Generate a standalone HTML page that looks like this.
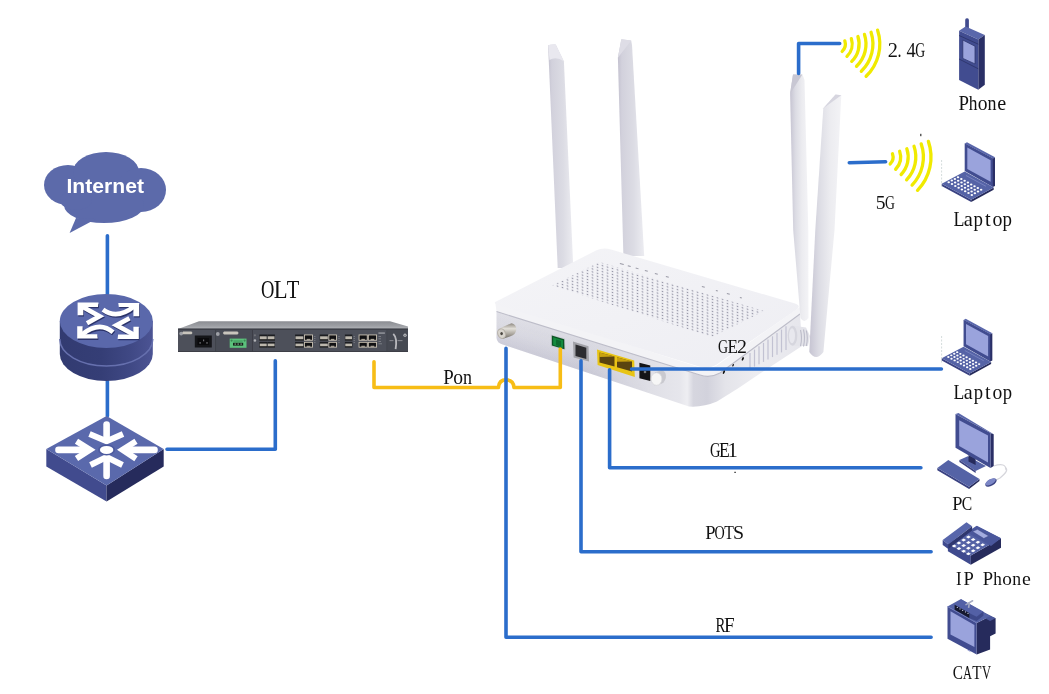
<!DOCTYPE html>
<html><head><meta charset="utf-8"><title>ONU network diagram</title>
<style>
html,body{margin:0;padding:0;background:#fff;width:1049px;height:694px;overflow:hidden}
svg{display:block;will-change:transform}
text{font-family:"Liberation Serif",serif;fill:#111}
.lbl{font-size:20px}
</style></head><body>
<svg width="1049" height="694" viewBox="0 0 1049 694">
<defs>
 <linearGradient id="cylSide" x1="0" x2="1" y1="0" y2="0">
  <stop offset="0" stop-color="#323b71"/><stop offset="0.45" stop-color="#353e76"/><stop offset="0.75" stop-color="#3f4884"/><stop offset="1" stop-color="#4c5494"/>
 </linearGradient>
 <linearGradient id="antL" x1="0" x2="1" y1="0" y2="0">
  <stop offset="0" stop-color="#c4c2d0"/><stop offset="0.15" stop-color="#d2d1dc"/><stop offset="0.6" stop-color="#dcdce4"/><stop offset="1" stop-color="#ececf1"/>
 </linearGradient>
 <linearGradient id="antR" x1="0" x2="1" y1="0" y2="0">
  <stop offset="0" stop-color="#c6c4d2"/><stop offset="0.3" stop-color="#dcdce4"/><stop offset="0.65" stop-color="#ececf0"/><stop offset="1" stop-color="#f3f3f6"/>
 </linearGradient>
 <linearGradient id="rightG" x1="0" x2="1" y1="0" y2="0">
  <stop offset="0" stop-color="#d6d6df"/><stop offset="0.3" stop-color="#ebebf0"/><stop offset="1" stop-color="#e6e6ec"/>
 </linearGradient>
 <linearGradient id="topG" x1="0" x2="1" y1="0" y2="1">
  <stop offset="0" stop-color="#f4f4f7"/><stop offset="1" stop-color="#eeeef3"/>
 </linearGradient>
 <linearGradient id="frontG" x1="0" x2="1" y1="0" y2="0">
  <stop offset="0" stop-color="#e2e2e8"/><stop offset="0.6" stop-color="#dcdce4"/><stop offset="0.85" stop-color="#ebebf0"/><stop offset="1" stop-color="#dedee6"/>
 </linearGradient>
 <linearGradient id="oltTop" x1="0" x2="0" y1="0" y2="1">
  <stop offset="0" stop-color="#8b8d92"/><stop offset="0.6" stop-color="#9d9fa4"/><stop offset="1" stop-color="#b2b4b8"/>
 </linearGradient>
 <pattern id="dots" width="5" height="3" patternUnits="userSpaceOnUse" patternTransform="skewY(15.6)">
  <circle cx="2.5" cy="1.5" r="0.72" fill="#7c7c90"/>
 </pattern>
 <g id="rarrows">
  <g fill="none" stroke="currentColor" stroke-width="4.7" stroke-linejoin="miter" stroke-linecap="butt">
   <path d="M82 306.5 L99.5 316.3 L87 323.2"/>
   <path d="M134 306.5 Q117 320 103 309.6"/>
   <path d="M82 334.5 Q99.5 320.5 113 332.3"/>
   <path d="M134 334.8 L116.5 325.3 L129.5 318.2"/>
  </g>
  <g fill="currentColor">
   <path d="M77.6 302.6 H98.5 L98 306.9 H83.3 V315.2 H77.6 Z"/>
   <path d="M139.2 302.9 H118.3 L118.8 306.9 H133.4 V316.3 H139.2 Z"/>
   <path d="M77.2 338.6 H97.7 L97.2 334.3 H82.6 V326.3 H77.2 Z"/>
   <path d="M138.8 338.9 H117.6 L118.1 334.6 H133.4 V326.7 H138.8 Z"/>
  </g>
 </g>
 <linearGradient id="fconn" x1="0" x2="0" y1="0" y2="1">
  <stop offset="0" stop-color="#8d8880"/><stop offset="0.35" stop-color="#e2dfd9"/><stop offset="0.7" stop-color="#a9a49c"/><stop offset="1" stop-color="#6e6a63"/>
 </linearGradient>
 <linearGradient id="bodyG" gradientUnits="userSpaceOnUse" x1="496" y1="0" x2="802" y2="0">
  <stop offset="0" stop-color="#e0e0e7"/><stop offset="0.34" stop-color="#dadae2"/><stop offset="0.5" stop-color="#dfdfe6"/><stop offset="0.6" stop-color="#e6e6ec"/>
  <stop offset="0.625" stop-color="#eeeef2"/><stop offset="0.645" stop-color="#d6d6df"/><stop offset="0.69" stop-color="#d2d2dc"/><stop offset="0.75" stop-color="#e4e4ea"/><stop offset="0.85" stop-color="#ededf1"/><stop offset="1" stop-color="#e6e6ec"/>
 </linearGradient>
 <linearGradient id="frontShade" gradientUnits="userSpaceOnUse" x1="0" y1="150" x2="0" y2="181.5" gradientTransform="skewY(18)">
  <stop offset="0" stop-color="#6a6890" stop-opacity="0"/><stop offset="0.5" stop-color="#6a6890" stop-opacity="0.05"/><stop offset="1" stop-color="#6a6890" stop-opacity="0.16"/>
 </linearGradient>
 <linearGradient id="fadeXg" gradientUnits="userSpaceOnUse" x1="496" y1="0" x2="690" y2="0">
  <stop offset="0" stop-color="#fff"/><stop offset="0.45" stop-color="#fff"/><stop offset="0.8" stop-color="#000"/><stop offset="1" stop-color="#000"/>
 </linearGradient>
 <mask id="fadeX" maskUnits="userSpaceOnUse" x="480" y="290" width="240" height="130"><rect x="480" y="290" width="240" height="130" fill="url(#fadeXg)"/></mask>
</defs>

<!-- ============ LEFT SIDE ============ -->
<!-- Internet cloud -->
<g fill="#5c6aaa">
 <ellipse cx="68" cy="185" rx="24" ry="20"/>
 <ellipse cx="106" cy="172" rx="33" ry="20"/>
 <ellipse cx="141" cy="190" rx="25" ry="22"/>
 <ellipse cx="104" cy="205" rx="40" ry="18"/>
 <ellipse cx="76" cy="200" rx="16" ry="10"/>
 <path d="M76 218 L69.6 233 L96 219 Z"/>
</g>
<text x="66.5" y="193.2" font-family="Liberation Sans" font-weight="bold" font-size="19.6" textLength="77.5" lengthAdjust="spacingAndGlyphs" style="font-family:'Liberation Sans',sans-serif;fill:#fff">Internet</text>

<!-- blue lines -->
<g stroke="#2b6dcb" stroke-width="3.6" fill="none" stroke-linecap="round" stroke-linejoin="round">
 <path d="M107.4 235.8 V294"/>
 <path d="M107.4 381 V416"/>
 <path d="M167 449.2 H275.3 V360.7"/>
</g>

<!-- Router (cylinder) -->
<g>
 <path d="M59.8 321 V354 A46.5 27 0 0 0 152.8 354 V321 Z" fill="url(#cylSide)"/>
 <path d="M59.8 339 A46.5 27 0 0 0 152.8 339" fill="none" stroke="#6670ae" stroke-width="1.5"/>
 <ellipse cx="106.3" cy="321" rx="46.5" ry="27" fill="#5a68ab"/>
 <use href="#rarrows" transform="translate(0.7 1.3)" style="color:#2b3369"/>
 <use href="#rarrows" style="color:#ffffff"/>
</g>

<!-- Switch -->
<g>
 <path d="M46.3 449 L106.6 485.6 L106.6 501.5 L46.3 466.5 Z" fill="#414b8e"/>
 <path d="M163.7 449 L106.6 485.6 L106.6 501.5 L163.7 466.5 Z" fill="#262b5c"/>
 <path d="M106.6 416 L163.7 449 L106.6 485.6 L46.3 449 Z" fill="#5a69ac"/>
 <g stroke="#fff" stroke-width="6.6" fill="none" stroke-linecap="round">
  <path d="M106.6 424.5 V439"/>
  <path d="M58.5 449.9 H86"/>
  <path d="M154.5 449.9 H126"/>
  <path d="M106.6 476 V461"/>
 </g>
 <g stroke="#fff" stroke-width="6" fill="none" stroke-linejoin="miter" stroke-linecap="butt" stroke-miterlimit="6">
  <path d="M89.5 434 L106.6 441.3 L123 434"/>
  <path d="M76.5 441.3 L90 449.8 L76.5 458.5"/>
  <path d="M136 441.3 L122.5 449.8 L136 458.8"/>
  <path d="M90.5 465 L106.6 457 L122.5 465"/>
 </g>
 <ellipse cx="106.6" cy="449.9" rx="8.6" ry="5.6" fill="#4d5b9f"/><ellipse cx="106.6" cy="449.9" rx="6.7" ry="4" fill="#fff"/>
</g>

<!-- OLT -->
<g>
 <path d="M178 329 L199 321.3 L390 321.3 L408 326.5 L408 329 Z" fill="url(#oltTop)"/>
 <rect x="178" y="328.7" width="230" height="23.2" fill="#4d505a"/>
 <rect x="178" y="328.6" width="230" height="1" fill="#34363d"/>
 <rect x="178" y="351" width="230" height="0.9" fill="#3a3c43"/>
 <g fill="#3a3c44">
  <rect x="215.3" y="330" width="0.9" height="21.5"/>
  <rect x="252" y="330" width="0.9" height="21.5"/>
  <rect x="386.6" y="330" width="0.9" height="21.5"/>
 </g>
 <rect x="216.2" y="330" width="35.8" height="21" fill="#484b55"/>
 <rect x="387.5" y="330" width="20.5" height="21" fill="#464952"/>
 <!-- power module -->
 <circle cx="181.2" cy="333.6" r="1.9" fill="#9ea0a6"/>
 <path d="M183 331.6 L191.5 331.6 L192.5 333 L191.5 334.3 L183 334.3 L182.3 333 Z" fill="#c9c5bd"/>
 <rect x="194.8" y="335.5" width="17" height="12" fill="#141518"/>
 <path d="M197.5 338 L209 338 L209 345 L197.5 345 Z" fill="#0a0a0c"/>
 <g fill="#6c6c70"><rect x="199.5" y="342" width="1.2" height="1.8"/><rect x="203" y="339.5" width="1.2" height="1.8"/><rect x="206.4" y="342" width="1.2" height="1.8"/></g>
 <!-- second module -->
 <circle cx="217.8" cy="334" r="1.9" fill="#9ea0a6"/>
 <path d="M224 331.6 L237.5 331.6 L238.7 333 L237.5 334.4 L224 334.4 L222.8 333 Z" fill="#c9c5bd"/>
 <rect x="229.7" y="338.6" width="16.8" height="9.2" fill="#5cc27c"/>
 <circle cx="231.6" cy="340.6" r="1.1" fill="#3d8a55"/><circle cx="244.6" cy="340.6" r="1.1" fill="#3d8a55"/>
 <rect x="233.5" y="340.2" width="9.2" height="2.2" fill="#4aa868"/>
 <rect x="233" y="342.8" width="10.2" height="2.8" fill="#14241a"/>
 <rect x="234.5" y="343.4" width="1.6" height="1.4" fill="#6f8a74"/><rect x="237.4" y="343.4" width="1.6" height="1.4" fill="#6f8a74"/><rect x="240.3" y="343.4" width="1.6" height="1.4" fill="#6f8a74"/>
 <!-- main card screws -->
 <circle cx="254.9" cy="335.3" r="1.1" fill="#6f7177"/>
 <circle cx="254.9" cy="340.5" r="1.3" fill="#b1b2b6"/>
 <rect x="259.4" y="334.5" width="7.7" height="6.2" fill="#1d1e22"/><rect x="259.8" y="336.3" width="6.9" height="2.7" fill="#bcb7ad"/><rect x="259.8" y="339.3" width="6.9" height="0.9" fill="#4a4844"/>
 <rect x="259.4" y="341.9" width="7.7" height="5.7" fill="#1d1e22"/><rect x="259.8" y="343.6" width="6.9" height="2.4" fill="#bcb7ad"/><rect x="259.8" y="346.3" width="6.9" height="0.8" fill="#4a4844"/>
 <rect x="267.3" y="334.5" width="7.6" height="6.2" fill="#1d1e22"/><rect x="267.7" y="336.3" width="6.8" height="2.7" fill="#bcb7ad"/><rect x="267.7" y="339.3" width="6.8" height="0.9" fill="#4a4844"/>
 <rect x="267.3" y="341.9" width="7.6" height="5.7" fill="#1d1e22"/><rect x="267.7" y="343.6" width="6.8" height="2.4" fill="#bcb7ad"/><rect x="267.7" y="346.3" width="6.8" height="0.8" fill="#4a4844"/>
 <rect x="295.1" y="334.5" width="8.6" height="6.2" fill="#1d1e22"/><rect x="295.5" y="336.3" width="7.8" height="2.7" fill="#bcb7ad"/><rect x="295.5" y="339.3" width="7.8" height="0.9" fill="#4a4844"/>
 <rect x="304.0" y="334.5" width="8.9" height="6.2" fill="#c9c1b2"/><rect x="304.9" y="335.4" width="7.1" height="4.4" fill="#111113"/><rect x="306.7" y="338.9" width="3.6" height="0.9" fill="#c9c1b2"/>
 <rect x="295.1" y="341.9" width="8.6" height="5.7" fill="#1d1e22"/><rect x="295.5" y="343.6" width="7.8" height="2.4" fill="#bcb7ad"/><rect x="295.5" y="346.3" width="7.8" height="0.8" fill="#4a4844"/>
 <rect x="304.0" y="341.9" width="8.9" height="5.7" fill="#c9c1b2"/><rect x="304.9" y="342.8" width="7.1" height="3.9" fill="#111113"/><rect x="306.7" y="345.8" width="3.6" height="0.9" fill="#c9c1b2"/>
 <rect x="319.7" y="334.5" width="8.5" height="6.2" fill="#1d1e22"/><rect x="320.1" y="336.3" width="7.7" height="2.7" fill="#bcb7ad"/><rect x="320.1" y="339.3" width="7.7" height="0.9" fill="#4a4844"/>
 <rect x="328.4" y="334.5" width="8.5" height="6.2" fill="#c9c1b2"/><rect x="329.3" y="335.4" width="6.7" height="4.4" fill="#111113"/><rect x="330.9" y="338.9" width="3.4" height="0.9" fill="#c9c1b2"/>
 <rect x="319.7" y="341.9" width="8.5" height="5.7" fill="#1d1e22"/><rect x="320.1" y="343.6" width="7.7" height="2.4" fill="#bcb7ad"/><rect x="320.1" y="346.3" width="7.7" height="0.8" fill="#4a4844"/>
 <rect x="328.4" y="341.9" width="8.5" height="5.7" fill="#c9c1b2"/><rect x="329.3" y="342.8" width="6.7" height="3.9" fill="#111113"/><rect x="330.9" y="345.8" width="3.4" height="0.9" fill="#c9c1b2"/>
 <rect x="344.9" y="334.5" width="7.5" height="6.2" fill="#1d1e22"/><rect x="345.3" y="336.3" width="6.7" height="2.7" fill="#bcb7ad"/><rect x="345.3" y="339.3" width="6.7" height="0.9" fill="#4a4844"/>
 <rect x="358.6" y="334.5" width="9.1" height="6.2" fill="#c9c1b2"/><rect x="359.5" y="335.4" width="7.3" height="4.4" fill="#111113"/><rect x="361.3" y="338.9" width="3.6" height="0.9" fill="#c9c1b2"/>
 <rect x="367.9" y="334.5" width="9.1" height="6.2" fill="#c9c1b2"/><rect x="368.8" y="335.4" width="7.3" height="4.4" fill="#111113"/><rect x="370.6" y="338.9" width="3.6" height="0.9" fill="#c9c1b2"/>
 <rect x="344.9" y="341.9" width="7.5" height="5.7" fill="#1d1e22"/><rect x="345.3" y="343.6" width="6.7" height="2.4" fill="#bcb7ad"/><rect x="345.3" y="346.3" width="6.7" height="0.8" fill="#4a4844"/>
 <rect x="358.6" y="341.9" width="9.1" height="5.7" fill="#c9c1b2"/><rect x="359.5" y="342.8" width="7.3" height="3.9" fill="#111113"/><rect x="361.3" y="345.8" width="3.6" height="0.9" fill="#c9c1b2"/>
 <rect x="367.9" y="341.9" width="9.1" height="5.7" fill="#c9c1b2"/><rect x="368.8" y="342.8" width="7.3" height="3.9" fill="#111113"/><rect x="370.6" y="345.8" width="3.6" height="0.9" fill="#c9c1b2"/>
 <!-- led labels -->
 <g fill="#8d8f96">
  <rect x="314.2" y="336" width="1.2" height="0.7"/><rect x="314.2" y="338" width="1.2" height="0.7"/><rect x="314.2" y="340" width="1.2" height="0.7"/><rect x="314.2" y="342" width="1.2" height="0.7"/>
  <rect x="338.4" y="336" width="1.2" height="0.7"/><rect x="338.4" y="338" width="1.2" height="0.7"/><rect x="338.4" y="340" width="1.2" height="0.7"/><rect x="338.4" y="342" width="1.2" height="0.7"/>
  <rect x="353.6" y="336" width="1.2" height="0.7"/><rect x="353.6" y="338" width="1.2" height="0.7"/><rect x="353.6" y="340" width="1.2" height="0.7"/><rect x="353.6" y="342" width="1.2" height="0.7"/>
  <rect x="378.5" y="336" width="2.5" height="0.7"/><rect x="378.5" y="338.5" width="2.5" height="0.7"/><rect x="378.5" y="341" width="2.5" height="0.7"/><rect x="378.5" y="343.5" width="3.5" height="0.7"/>
  <rect x="378.4" y="332.3" width="6.5" height="1.6"/>
 </g>
 <!-- right panel lever -->
 <path d="M393.3 333.8 Q397.5 338 395.6 349.2" stroke="#b9b9bd" stroke-width="1.8" fill="none"/>
 <rect x="389.5" y="340.3" width="4" height="0.8" fill="#9a9ca2"/><rect x="397.5" y="340.3" width="5" height="0.8" fill="#9a9ca2"/>
 <circle cx="405" cy="335.2" r="1.6" fill="#c3c4c8"/><circle cx="405" cy="335.2" r="0.7" fill="#55575d"/>
</g>

<!-- ============ ONU ROUTER ============ -->
<g id="onu">
 <!-- back antennas -->
 <path d="M548.1 45.3 Q551 44.2 555.7 44.6 L563.9 61.2 L573.3 268 L557.7 268 Z" fill="url(#antL)"/>
 <path d="M548.1 45.3 Q551 44.2 555.7 44.6 L563.9 61.2 Q556 56 549.5 60 Z" fill="#e9e8ef"/>
 <path d="M621.3 39.2 L631.2 40.4 L632 45 L644.2 256 L623.4 256 L617.9 57.7 Z" fill="url(#antL)"/>
 <path d="M621.3 39.2 L631.2 40.4 L617.9 57.7 Z" fill="#deddE6"/>
 <!-- body (front + right faces) -->
 <path d="M496.5 311.5 L700 375 Q710 378.5 720 373 L800 314 L802 346 L760 373.5 Q738 389 717 401.5 Q703 407.5 689 406.5 L502.7 344.6 Q497 343 496.5 338 Z" fill="url(#bodyG)"/>
 <path d="M496.5 311.5 L700 375 L689 406.5 L502.7 344.6 Q497 343 496.5 338 Z" fill="url(#frontShade)" mask="url(#fadeX)"/>
 <!-- lid band -->
 <path d="M495.2 302 L700 367.5 Q708 370 716 366 L800 307 L800 314 L720 373 Q710 378.5 700 375 L496.5 311.5 Z" fill="#f3f3f6"/>
 <path d="M496.5 311.5 L700 375 Q710 378.5 720 373 L800 314" fill="none" stroke="#bdbdc9" stroke-width="1.1"/>
 <!-- lid top -->
 <path d="M495.2 302 L596 250.5 Q603 247 611 249.5 L795 303.5 Q802 306 796 310 L716 365 Q708 369.5 699 366.5 L499 305.5 Q493.5 303.8 495.2 302 Z" fill="url(#topG)"/>
 <!-- dot area -->
 <path d="M552 285.5 L599.5 262 L764 311 L712 337 Z" fill="url(#dots)"/>
 <!-- LED labels -->
 <g fill="#9a9aa6">
  <rect x="620" y="263" width="4" height="1" transform="rotate(16 620 263)"/>
  <rect x="628" y="265.3" width="3" height="1" transform="rotate(16 628 265)"/>
  <rect x="636" y="267.6" width="3" height="1" transform="rotate(16 636 267)"/>
  <rect x="645" y="270" width="3" height="1" transform="rotate(16 645 270)"/>
  <rect x="655" y="273" width="3" height="1" transform="rotate(16 655 273)"/>
  <rect x="666" y="276" width="3" height="1" transform="rotate(16 666 276)"/>
  <rect x="702" y="286" width="3" height="1" transform="rotate(16 702 286)"/>
  <rect x="716" y="290" width="2" height="1" transform="rotate(16 716 290)"/>
  <rect x="727" y="293" width="3" height="1" transform="rotate(16 727 293)"/>
  <rect x="740" y="297" width="2" height="1" transform="rotate(16 740 297)"/>
 </g>
 <!-- vents -->
 <g stroke="#c2c2d2" stroke-width="1.2"><path d="M750.0 352.9 V369.0"/><path d="M754.5 349.6 V366.6"/><path d="M759.0 346.2 V364.2"/><path d="M763.5 342.9 V361.9"/><path d="M768.0 339.6 V359.5"/><path d="M772.5 336.3 V357.1"/><path d="M777.0 333.0 V354.8"/><path d="M781.5 329.6 V352.4"/><path d="M786.0 326.3 V350.0"/></g>
 <!-- F connector -->
 <path d="M500 328.3 L511.5 323.2 Q516.5 324 516.3 329.8 Q515.5 335 510.5 336.3 L503 338.8 Z" fill="url(#fconn)"/>
 <ellipse cx="501.6" cy="333.6" rx="4.4" ry="5.5" fill="#b7b2aa" transform="rotate(-20 501.6 333.6)"/>
 <ellipse cx="501.6" cy="333.6" rx="3.3" ry="4.3" fill="#d9d5ce" transform="rotate(-20 501.6 333.6)"/>
 <ellipse cx="501.6" cy="333.6" rx="1.3" ry="1.7" fill="#4a4640"/>
 <!-- green port -->
 <path d="M550.8 334.4 L565 338.5 L565.4 350 L550.8 346.4 Z" fill="#c9c9d1"/>
 <path d="M551.8 335.4 L564.2 339.2 L564.5 349.2 L551.8 345.6 Z" fill="#0b5424"/>
 <path d="M553.2 337.2 L563 340.2 L563 348 L553.2 345 Z" fill="#148a3e"/>
 <path d="M556 339.5 L561 341 L561 346.8 L556 345.2 Z" fill="#0d6a2e"/>
 <!-- gray rj11 -->
 <path d="M573 341.6 L588.5 346.2 L589 361.6 L573.6 357.6 Z" fill="#a2a2a8"/>
 <path d="M575.5 344.5 L586.3 347.7 L586.3 359 L575.5 356 Z" fill="#2c2c30"/>
 <!-- yellow ports -->
 <path d="M597 349.6 L634.2 360.5 L634.8 377.1 L597.6 365 Z" fill="#e8c415"/>
 <path d="M599.5 352.5 L614.5 356.5 L614.5 366.5 L599.5 362.5 Z" fill="#5a4410"/>
 <path d="M617 357.2 L632 361.4 L632 371.5 L617 367.3 Z" fill="#5a4410"/>
 <path d="M599.5 352.5 L614.5 356.5 L599.5 357 Z" fill="#c9a20f"/>
 <path d="M617 357.2 L632 361.4 L617 361.8 Z" fill="#c9a20f"/>
 <!-- power jack -->
 <path d="M639.4 362.8 L650.3 365.6 L650.3 381 L639.4 378.2 Z" fill="#141416"/>
 <circle cx="645" cy="372" r="1.3" fill="#777"/>
 <!-- button -->
 <path d="M655 372.3 L662 370.3 Q666.8 372 665.8 378 Q664.5 383.2 660 384.3 L654 385.3 Z" fill="#c9c9cf"/>
 <ellipse cx="656.5" cy="379" rx="5.4" ry="6.3" fill="#f6f6f6" stroke="#d6d6da" stroke-width="0.7"/>
 <!-- front antennas -->
 <path d="M790.1 93.8 L793 74.4 L802.4 74.4 L804.5 80 L808.3 230 L808.5 318 Q804 324 800.5 318 L793.2 230 Z" fill="url(#antR)"/>
 <path d="M793 74.4 L802.4 74.4 L790.1 93.8 Z" fill="#c8c7d3"/>
 <path d="M792 325.5 L806 327.5 L810 336 L808 346 L793 346 Z" fill="#e4e4ea"/>
 <ellipse cx="792.5" cy="335.8" rx="4.8" ry="10" fill="#d6d6de"/>
 <ellipse cx="792" cy="335.8" rx="3" ry="7.5" fill="#e8e8ee"/>
 <g stroke="#bdbdca" stroke-width="1.1" fill="none">
  <path d="M800.5 330 Q802.5 338 800.5 346"/><path d="M803.5 329.5 Q805.5 338 803.5 346.5"/><path d="M806.3 330.5 Q808.3 338 806.3 346"/>
 </g>
 <path d="M823.3 108.2 L835.5 94.5 L841.3 95.3 L834.5 230 L823.4 352 Q816 362 809.3 352 L815.3 230 Z" fill="url(#antR)"/>
 <path d="M835.5 94.5 L841.3 95.3 L823.3 108.2 Z" fill="#d6d5df"/>
</g>

<!-- yellow Pon line -->
<path d="M374 361.7 V387.5 H498.4 Q499 379.9 506.2 379.9 Q513.4 379.9 514 387.5 H560.3 V349.1" stroke="#f7bd16" stroke-width="3.6" fill="none" stroke-linecap="round" stroke-linejoin="round"/>

<!-- right-side blue lines -->
<g stroke="#2b6dcb" stroke-width="3.6" fill="none" stroke-linecap="round" stroke-linejoin="round">
 <path d="M506 348.4 V637.3 H931.1"/>
 <path d="M581 360.7 V551.7 H931.1"/>
 <path d="M609.6 369.8 V467.8 H920.9"/>
 <path d="M631.6 369 H941.4"/>
 <path d="M798.6 73.4 V43.5 H839.7"/>
 <path d="M849.3 162.8 L885.6 161.8"/>
</g>


<g stroke="#f0ea00" stroke-width="3.3" fill="none" stroke-linecap="round"><path d="M844.80 40.82 A10.30 10.30 0 0 1 842.15 51.41"/><path d="M851.36 38.68 A17.20 17.20 0 0 1 846.95 56.37"/><path d="M857.92 36.55 A24.10 24.10 0 0 1 851.74 61.34"/><path d="M864.48 34.42 A31.00 31.00 0 0 1 856.53 66.30"/><path d="M871.05 32.29 A37.90 37.90 0 0 1 861.33 71.26"/><path d="M877.61 30.16 A44.80 44.80 0 0 1 866.12 76.23"/></g>
<g stroke="#f0ea00" stroke-width="3.3" fill="none" stroke-linecap="round"><path d="M892.46 153.74 A10.00 10.00 0 0 1 890.19 163.95"/><path d="M899.64 151.27 A17.60 17.60 0 0 1 895.66 169.23"/><path d="M906.83 148.80 A25.20 25.20 0 0 1 901.13 174.51"/><path d="M914.01 146.32 A32.80 32.80 0 0 1 906.59 179.78"/><path d="M921.20 143.85 A40.40 40.40 0 0 1 912.06 185.06"/><path d="M928.38 141.37 A48.00 48.00 0 0 1 917.53 190.34"/></g>
<!-- ============ RIGHT ICONS ============ -->
<!-- mobile phone -->
<g id="mphone">
 <rect x="965.2" y="18.3" width="3.7" height="11" rx="1.6" fill="#414b8e"/>
 <path d="M959.1 30.8 L965.6 26.5 L984.8 35.1 L978.3 39.4 Z" fill="#5a67ab"/>
 <path d="M978.3 39.4 L984.8 35.1 L984.8 84.8 L978.3 89.7 Z" fill="#2a2f66"/>
 <path d="M959.1 30.8 L978.3 39.4 L978.3 89.7 L959.1 79.9 Z" fill="#414c90"/>
 <path d="M959.1 35.5 L978.3 44.2" stroke="#2f376f" stroke-width="1"/>
 <path d="M959.1 59 L978.3 68.8" stroke="#2f376f" stroke-width="1"/>
 <path d="M962.8 40 L975 46.2 L975 63.9 L962.8 58.4 Z" fill="#9aa3dc" stroke="#2f376f" stroke-width="0.8"/>
</g>

<!-- laptop symbol -->
<g id="laptop1">
 <path d="M964.7 143.4 L992.8 158.4 L995 157.2 L995 186 L992.8 187 Z" fill="#2a2f66"/>
 <path d="M964.7 143.4 L967 142.2 L995 157.2 L992.8 158.4 Z" fill="#5a67ab"/>
 <path d="M964.7 143.4 L992.8 158.4 L992.8 187 L964.7 171 Z" fill="#414c90"/>
 <path d="M967.3 147.6 L990.6 160.2 L990.6 181.8 L967.3 169 Z" fill="#9aa3dc"/>
 <path d="M941.7 183.7 L971.2 199.7 L971.2 202 L941.7 186 Z" fill="#3a4282"/>
 <path d="M971.2 199.7 L993.7 187.5 L993.7 189.8 L971.2 202 Z" fill="#262b5c"/>
 <path d="M941.7 183.7 L964.7 171.5 L993.7 187.5 L971.2 199.7 Z" fill="#5563a6"/>
 <g fill="#fff"><ellipse cx="948.70" cy="182.30" rx="1.25" ry="1.0"/><ellipse cx="952.00" cy="184.10" rx="1.25" ry="1.0"/><ellipse cx="955.30" cy="185.90" rx="1.25" ry="1.0"/><ellipse cx="958.60" cy="187.70" rx="1.25" ry="1.0"/><ellipse cx="961.90" cy="189.50" rx="1.25" ry="1.0"/><ellipse cx="965.20" cy="191.30" rx="1.25" ry="1.0"/><ellipse cx="968.50" cy="193.10" rx="1.25" ry="1.0"/><ellipse cx="971.80" cy="194.90" rx="1.25" ry="1.0"/><ellipse cx="951.80" cy="180.60" rx="1.25" ry="1.0"/><ellipse cx="955.10" cy="182.40" rx="1.25" ry="1.0"/><ellipse cx="958.40" cy="184.20" rx="1.25" ry="1.0"/><ellipse cx="961.70" cy="186.00" rx="1.25" ry="1.0"/><ellipse cx="965.00" cy="187.80" rx="1.25" ry="1.0"/><ellipse cx="968.30" cy="189.60" rx="1.25" ry="1.0"/><ellipse cx="971.60" cy="191.40" rx="1.25" ry="1.0"/><ellipse cx="974.90" cy="193.20" rx="1.25" ry="1.0"/><ellipse cx="954.90" cy="178.90" rx="1.25" ry="1.0"/><ellipse cx="958.20" cy="180.70" rx="1.25" ry="1.0"/><ellipse cx="961.50" cy="182.50" rx="1.25" ry="1.0"/><ellipse cx="964.80" cy="184.30" rx="1.25" ry="1.0"/><ellipse cx="968.10" cy="186.10" rx="1.25" ry="1.0"/><ellipse cx="971.40" cy="187.90" rx="1.25" ry="1.0"/><ellipse cx="974.70" cy="189.70" rx="1.25" ry="1.0"/><ellipse cx="978.00" cy="191.50" rx="1.25" ry="1.0"/><ellipse cx="958.00" cy="177.20" rx="1.25" ry="1.0"/><ellipse cx="961.30" cy="179.00" rx="1.25" ry="1.0"/><ellipse cx="964.60" cy="180.80" rx="1.25" ry="1.0"/><ellipse cx="967.90" cy="182.60" rx="1.25" ry="1.0"/><ellipse cx="971.20" cy="184.40" rx="1.25" ry="1.0"/><ellipse cx="974.50" cy="186.20" rx="1.25" ry="1.0"/><ellipse cx="977.80" cy="188.00" rx="1.25" ry="1.0"/><ellipse cx="981.10" cy="189.80" rx="1.25" ry="1.0"/></g>
 <path d="M966 175.5 L986 186.3" stroke="#7d88c4" stroke-width="0.8"/>
</g>
<use href="#laptop1" transform="translate(941.7 358.3) scale(0.95) translate(-941.7 -183.7)"/>

<!-- PC -->
<g id="pc">
 <path d="M1005 467.5 Q1010 470 1000 478 L996 480" stroke="#d6d6dc" stroke-width="1.2" fill="none"/>
 <path d="M993.7 466 Q1006 462 1006 470" stroke="#d6d6dc" stroke-width="1.2" fill="none"/>
 <path d="M959.4 460.1 L967.8 456.2 L986 466 L975.6 471.1 Z" fill="#5563a6"/>
 <path d="M959.4 460.1 L975.6 471.1 L975.6 473 L959.4 462 Z" fill="#3a4282"/>
 <path d="M968.5 455 L975.6 458.5 L975.6 465 L968.5 461.5 Z" fill="#262b5c"/>
 <path d="M990.5 432.9 L993.7 434.2 L993.7 466 L990.5 467.9 Z" fill="#2a2f66"/>
 <path d="M955.5 414.1 L958.5 413 L993.7 434.2 L990.5 432.9 Z" fill="#5a67ab"/>
 <path d="M955.5 414.1 L990.5 432.9 L990.5 467.9 L955.5 447.8 Z" fill="#414c90"/>
 <path d="M959.2 420.2 L988 435.6 L988 462.5 L959.2 446 Z" fill="#9aa3dc"/>
 <path d="M937.3 467.9 L969.1 486.7 L969.1 489 L937.3 470.2 Z" fill="#3a4282"/>
 <path d="M969.1 486.7 L979.5 478.9 L979.5 481 L969.1 489 Z" fill="#262b5c"/>
 <path d="M937.3 467.9 L948.3 460.1 L979.5 478.9 L969.1 486.7 Z" fill="#5563a6"/>
 <ellipse cx="991" cy="482.6" rx="6.3" ry="3.2" transform="rotate(-30 991 482.6)" fill="#3a4282"/>
 <ellipse cx="990.6" cy="481.8" rx="5.8" ry="2.6" transform="rotate(-30 990.6 481.8)" fill="#7c87c6"/>
</g>

<!-- IP phone -->
<g id="ipphone">
 <path d="M947.9 543.5 L970.8 555.6 L970.8 564.7 L947.9 551.3 Z" fill="#3f4a8e"/>
 <path d="M970.8 555.6 L1001 538.3 L1001 547.8 L970.8 564.7 Z" fill="#262b5c"/>
 <path d="M947.9 543.5 L976.9 525.8 L1001 538.3 L970.8 555.6 Z" fill="#5563a6"/>
 <path d="M976.5 526 L1001 538.3 L991 546 L968 533 Z" fill="#4a579c"/>
 <path d="M942.7 540.1 L966.5 522.3 L972.1 526.2 L948.3 544.4 Z" fill="#5866ab"/>
 <path d="M942.7 540.1 L948.3 544.4 L948.3 549 L942.7 545 Z" fill="#3f4a8e"/>
 <path d="M948.3 544.4 L972.1 526.2 L972.1 530.5 L948.3 549 Z" fill="#2f376f"/>
 <path d="M972.5 531.5 L977.5 529.3 L988.8 536 L983.8 538.5 Z" fill="#a3acdf" stroke="#3a4282" stroke-width="0.5"/>
 <g fill="#fff"><path d="M966.00 537.10 L968.50 535.50 L970.80 536.90 L968.30 538.50 Z"/><path d="M961.25 540.10 L963.75 538.50 L966.05 539.90 L963.55 541.50 Z"/><path d="M956.50 543.10 L959.00 541.50 L961.30 542.90 L958.80 544.50 Z"/><path d="M951.75 546.10 L954.25 544.50 L956.55 545.90 L954.05 547.50 Z"/><path d="M970.75 539.70 L973.25 538.10 L975.55 539.50 L973.05 541.10 Z"/><path d="M966.00 542.70 L968.50 541.10 L970.80 542.50 L968.30 544.10 Z"/><path d="M961.25 545.70 L963.75 544.10 L966.05 545.50 L963.55 547.10 Z"/><path d="M956.50 548.70 L959.00 547.10 L961.30 548.50 L958.80 550.10 Z"/><path d="M975.50 542.30 L978.00 540.70 L980.30 542.10 L977.80 543.70 Z"/><path d="M970.75 545.30 L973.25 543.70 L975.55 545.10 L973.05 546.70 Z"/><path d="M966.00 548.30 L968.50 546.70 L970.80 548.10 L968.30 549.70 Z"/><path d="M961.25 551.30 L963.75 549.70 L966.05 551.10 L963.55 552.70 Z"/><path d="M980.25 544.90 L982.75 543.30 L985.05 544.70 L982.55 546.30 Z"/><path d="M975.50 547.90 L978.00 546.30 L980.30 547.70 L977.80 549.30 Z"/><path d="M970.75 550.90 L973.25 549.30 L975.55 550.70 L973.05 552.30 Z"/><path d="M966.00 553.90 L968.50 552.30 L970.80 553.70 L968.30 555.30 Z"/></g>
</g>

<!-- CATV -->
<g id="catv">
 <path d="M976.7 622.9 L990.1 616.2 L995.6 618.2 L995.6 633.4 L990.1 636.2 L990.1 649.5 L976.7 654.6 Z" fill="#262b5c"/>
 <path d="M982 611.2 L995.6 618.2 L990.1 621 L977 614 Z" fill="#4a5699"/>
 <path d="M947.5 606.5 L961 599 L990.1 616.2 L976.7 622.9 Z" fill="#5563a6"/>
 <path d="M947.5 606.5 L976.7 622.9 L976.7 654.6 L947.5 638.7 Z" fill="#414c90"/>
 <path d="M950.5 611.2 L974.4 625 L974.4 647 L950.5 634.6 Z" fill="#9aa3dc"/>
 <path d="M947.5 606.5 L976.7 622.9" stroke="#6d79bb" stroke-width="0.8"/>
 <!-- set-top box -->
 <path d="M954.6 604.8 L961.3 599.6 L983.4 611.6 L976.6 616.8 Z" fill="#5360a6"/>
 <path d="M954.6 604.8 L969.6 613.3 L969.6 618.2 L954.6 609.7 Z" fill="#15182e"/>
 <path d="M969.6 613.3 L976.6 616.8 L983.4 611.6 L983.4 615.8 L976.6 621 L969.6 618.2 Z" fill="#3d4889"/>
 <g fill="#d4d8f0"><circle cx="957.3" cy="607.4" r="0.55"/><circle cx="960" cy="608.9" r="0.55"/><circle cx="962.7" cy="610.4" r="0.55"/><circle cx="965.4" cy="611.9" r="0.55"/><circle cx="968" cy="613.4" r="0.55"/></g>
 <path d="M968.6 607.8 L969.4 602.2" stroke="#a6abc2" stroke-width="1.6" fill="none"/>
 <path d="M966 604.6 L972.6 600.8" stroke="#a6abc2" stroke-width="1.6" fill="none" stroke-linecap="round"/>
 <path d="M967.5 650 L970.5 651.6" stroke="#8e98d0" stroke-width="0.8"/>
</g>

<!-- tiny marks -->
<g fill="#111">
 <ellipse cx="742.8" cy="358.9" rx="0.9" ry="1.9" transform="rotate(25 742.8 358.9)"/>
 <ellipse cx="733.1" cy="365.2" rx="0.7" ry="1.3" transform="rotate(25 733.1 365.2)"/>
 <ellipse cx="723.9" cy="372.2" rx="0.9" ry="1.9" transform="rotate(25 723.9 372.2)"/>
</g>
<rect x="734.2" y="471.8" width="1.8" height="1" fill="#333"/>
<rect x="920.2" y="133.8" width="1.2" height="2.4" fill="#333"/>
<g stroke="#c8d2d2" stroke-width="0.8" stroke-dasharray="2 1.5">
 <path d="M941.6 160 V188"/>
 <path d="M941.6 336 V364"/>
</g>

<g class="labels">
<text transform="translate(260.94 298.00) scale(0.713 1)" font-size="25.96" style="fill:#111">O</text>
<text transform="translate(273.72 298.00) scale(0.874 1)" font-size="25.96" style="fill:#111">L</text>
<text transform="translate(286.68 298.00) scale(0.792 1)" font-size="25.96" style="fill:#111">T</text>
<text transform="translate(443.36 383.50) scale(0.937 1)" font-size="20.16" style="fill:#111">P</text>
<text transform="translate(453.18 383.50) scale(0.971 1)" font-size="20.16" style="fill:#111">o</text>
<text transform="translate(463.09 383.50) scale(0.891 1)" font-size="20.16" style="fill:#111">n</text>
<text transform="translate(887.64 56.50) scale(1.000 1)" font-size="20.31" style="fill:#111">2</text>
<text transform="translate(897.59 56.50) scale(0.792 1)" font-size="20.31" style="fill:#111">.</text>
<text transform="translate(906.54 56.50) scale(0.911 1)" font-size="20.31" style="fill:#111">4</text>
<text transform="translate(915.19 56.50) scale(0.674 1)" font-size="20.31" style="fill:#111">G</text>
<text transform="translate(958.46 109.70) scale(0.937 1)" font-size="20.16" style="fill:#111">P</text>
<text transform="translate(968.79 109.70) scale(0.863 1)" font-size="20.16" style="fill:#111">h</text>
<text transform="translate(977.73 109.70) scale(0.971 1)" font-size="20.16" style="fill:#111">o</text>
<text transform="translate(987.58 109.70) scale(0.891 1)" font-size="20.16" style="fill:#111">n</text>
<text transform="translate(997.13 109.70) scale(1.000 1)" font-size="20.16" style="fill:#111">e</text>
<text transform="translate(875.80 208.80) scale(1.000 1)" font-size="19.55" style="fill:#111">5</text>
<text transform="translate(885.12 208.80) scale(0.702 1)" font-size="19.55" style="fill:#111">G</text>
<text transform="translate(953.58 225.60) scale(0.874 1)" font-size="20.46" style="fill:#111">L</text>
<text transform="translate(963.67 225.60) scale(1.000 1)" font-size="20.46" style="fill:#111">a</text>
<text transform="translate(973.58 225.60) scale(0.926 1)" font-size="20.46" style="fill:#111">p</text>
<text transform="translate(984.88 225.60) scale(1.000 1)" font-size="20.46" style="fill:#111">t</text>
<text transform="translate(992.45 225.60) scale(0.971 1)" font-size="20.46" style="fill:#111">o</text>
<text transform="translate(1002.57 225.60) scale(0.926 1)" font-size="20.46" style="fill:#111">p</text>
<text transform="translate(718.03 353.40) scale(0.702 1)" font-size="19.85" style="fill:#111">G</text>
<text transform="translate(727.43 353.40) scale(0.857 1)" font-size="19.85" style="fill:#111">E</text>
<text transform="translate(736.91 353.40) scale(1.000 1)" font-size="19.85" style="fill:#111">2</text>
<text transform="translate(953.59 399.00) scale(0.874 1)" font-size="20.16" style="fill:#111">L</text>
<text transform="translate(963.70 399.00) scale(1.000 1)" font-size="20.16" style="fill:#111">a</text>
<text transform="translate(973.63 399.00) scale(0.926 1)" font-size="20.16" style="fill:#111">p</text>
<text transform="translate(984.93 399.00) scale(1.000 1)" font-size="20.16" style="fill:#111">t</text>
<text transform="translate(992.56 399.00) scale(0.971 1)" font-size="20.16" style="fill:#111">o</text>
<text transform="translate(1002.70 399.00) scale(0.926 1)" font-size="20.16" style="fill:#111">p</text>
<text transform="translate(709.91 457.00) scale(0.702 1)" font-size="20.62" style="fill:#111">G</text>
<text transform="translate(718.89 457.00) scale(0.857 1)" font-size="20.62" style="fill:#111">E</text>
<text transform="translate(727.57 457.00) scale(1.000 1)" font-size="20.62" style="fill:#111">1</text>
<text transform="translate(952.17 510.00) scale(0.937 1)" font-size="19.55" style="fill:#111">P</text>
<text transform="translate(961.84 510.00) scale(0.800 1)" font-size="19.55" style="fill:#111">C</text>
<text transform="translate(705.16 539.00) scale(0.937 1)" font-size="19.85" style="fill:#111">P</text>
<text transform="translate(714.53 539.00) scale(0.713 1)" font-size="19.85" style="fill:#111">O</text>
<text transform="translate(724.24 539.00) scale(0.792 1)" font-size="19.85" style="fill:#111">T</text>
<text transform="translate(732.90 539.00) scale(1.000 1)" font-size="19.85" style="fill:#111">S</text>
<text transform="translate(955.99 584.80) scale(0.853 1)" font-size="19.85" style="fill:#111">I</text>
<text transform="translate(963.42 584.80) scale(0.937 1)" font-size="19.85" style="fill:#111">P</text>
<text transform="translate(982.76 584.80) scale(0.937 1)" font-size="19.85" style="fill:#111">P</text>
<text transform="translate(993.25 584.80) scale(0.863 1)" font-size="19.85" style="fill:#111">h</text>
<text transform="translate(1002.35 584.80) scale(0.971 1)" font-size="19.85" style="fill:#111">o</text>
<text transform="translate(1012.35 584.80) scale(0.891 1)" font-size="19.85" style="fill:#111">n</text>
<text transform="translate(1022.06 584.80) scale(1.000 1)" font-size="19.85" style="fill:#111">e</text>
<text transform="translate(715.47 631.80) scale(0.717 1)" font-size="20.62" style="fill:#111">R</text>
<text transform="translate(724.04 631.80) scale(0.929 1)" font-size="20.62" style="fill:#111">F</text>
<text transform="translate(952.87 679.40) scale(0.800 1)" font-size="19.09" style="fill:#111">C</text>
<text transform="translate(962.94 679.40) scale(0.647 1)" font-size="19.09" style="fill:#111">A</text>
<text transform="translate(972.35 679.40) scale(0.792 1)" font-size="19.09" style="fill:#111">T</text>
<text transform="translate(982.05 679.40) scale(0.652 1)" font-size="19.09" style="fill:#111">V</text>
</g>
</svg>
</body></html>
